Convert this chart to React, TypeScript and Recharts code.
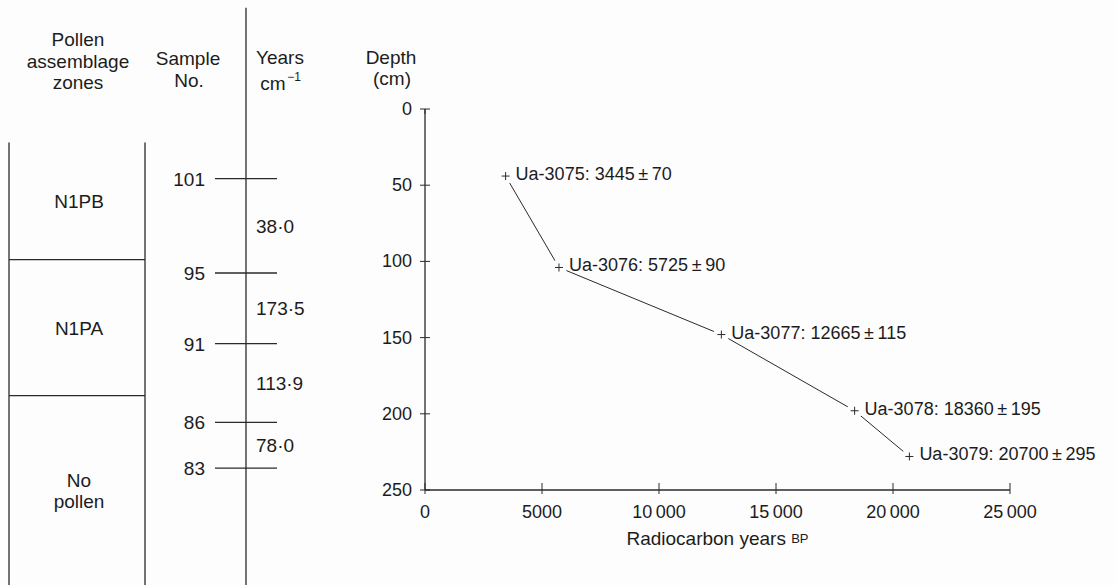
import React from 'react';
import {
  ComposedChart,
  Line,
  XAxis,
  YAxis,
  ReferenceLine,
  LabelList,
  Customized,
} from 'recharts';

// ---------- data ----------
const sampleCodes = ['Ua-3075', 'Ua-3076', 'Ua-3077', 'Ua-3078', 'Ua-3079'];
const radiocarbonAges = [3445, 5725, 12665, 18360, 20700];
const ageErrors = [70, 90, 115, 195, 295];
const depthsCm = [44, 104, 148, 198, 228];
const depthTicks = [0, 50, 100, 150, 200, 250];
const ageTicks = [0, 5000, 10000, 15000, 20000, 25000];

const sampleNumbers = ['101', '95', '91', '86', '83'];
const sampleDepthsCm = [45.7, 107.6, 154, 205.6, 235.6];
const yearsPerCm = ['38·0', '173·5', '113·9', '78·0'];
const zoneLabels = [['N1PB'], ['N1PA'], ['No', 'pollen']];
const zoneBoundsCm = [21.9, 98.9, 188.1, 312.5];
const columnTopCm = -66.5;

// ---------- layout ----------
const W = 1116;
const H = 585;
const PLOT_LEFT = 425;
const PLOT_RIGHT = 1010;
const PLOT_TOP = 109;
const PLOT_BOTTOM = 490;
const Y_AXIS_W = 60;
const X_AXIS_H = 40;
const L = {
  zoneLeft: 9,
  zoneRight: 145,
  zoneLabelX: 79,
  sampleLabelX: 205,
  tickLeft: 215,
  tickRight: 277,
  columnX: 246,
  rateX: 256,
};
const FONT = '"Liberation Sans", Arial, Helvetica, sans-serif';
const INK = '#1c1c1c';
const LINE = '#2a2a2a';

const chartData = radiocarbonAges.map((age, i) => ({
  age,
  depth: depthsCm[i],
  label: `${sampleCodes[i]}: ${age}\u2009±\u2009${ageErrors[i]}`,
}));

const fmtAge = (v: number) =>
  v >= 10000 ? `${Math.floor(v / 1000)}\u2009${String(v % 1000).padStart(3, '0')}` : String(v);

const XTick = (p: any) => {
  const { x, y, payload } = p;
  return (
    <g>
      <line x1={x} x2={x} y1={y - 7} y2={y + 4} stroke={LINE} strokeWidth={1} />
      <text x={x} y={y + 22} textAnchor="middle" dominantBaseline="central" fontSize={18} fill={INK} fontFamily={FONT}>
        {fmtAge(payload.value)}
      </text>
    </g>
  );
};

const YTick = (p: any) => {
  const { x, y, payload } = p;
  return (
    <g>
      <line x1={x - 5} x2={x + 5} y1={y} y2={y} stroke={LINE} strokeWidth={1} />
      {payload.value === 0 ? <line x1={x} x2={x} y1={y} y2={y + 5} stroke={LINE} strokeWidth={1} /> : null}
      <text x={x - 13} y={y} textAnchor="end" dominantBaseline="central" fontSize={18} fill={INK} fontFamily={FONT}>
        {payload.value}
      </text>
    </g>
  );
};

const PlusDot = (p: any) => {
  const { cx, cy, index } = p;
  return (
    <g key={`d${index}`}>
      <circle cx={cx} cy={cy} r={8} fill="#fdfdfd" />
      <line x1={cx - 4} x2={cx + 4} y1={cy} y2={cy} stroke={LINE} strokeWidth={1} />
      <line x1={cx} x2={cx} y1={cy - 4} y2={cy + 4} stroke={LINE} strokeWidth={1} />
    </g>
  );
};

const PointLabel = (p: any) => {
  const { x, y, value } = p;
  return (
    <text x={x + 10} y={y - 2} dominantBaseline="central" fontSize={18} fill={INK} fontFamily={FONT}>
      {value}
    </text>
  );
};

// shapes for the stratigraphic column: depth (y1) comes from the chart's y scale
const hLine = (x1: number, x2: number) => (p: any) => (
  <line x1={x1} x2={x2} y1={p.y1} y2={p.y1} stroke={LINE} strokeWidth={1.3} />
);
const vLineDown = (x: number) => (p: any) => (
  <line x1={x} x2={x} y1={p.y1} y2={H} stroke={LINE} strokeWidth={1.3} />
);
const textAt = (lines: string[], x: number, anchor: 'start' | 'middle' | 'end') => (p: any) => {
  const lh = 21;
  const y0 = p.y1 - ((lines.length - 1) * lh) / 2;
  return (
    <text textAnchor={anchor} dominantBaseline="central" fontSize={19} fill={INK} fontFamily={FONT}>
      {lines.map((t, i) => (
        <tspan key={i} x={x} y={y0 + i * lh}>
          {t}
        </tspan>
      ))}
    </text>
  );
};

const Headers = () => (
  <g fontFamily={FONT} fill={INK} fontSize={19} textAnchor="middle" dominantBaseline="central">
    <text x={78} y={39}>Pollen</text>
    <text x={78} y={61}>assemblage</text>
    <text x={78} y={82}>zones</text>
    <text x={188} y={58}>Sample</text>
    <text x={189} y={80}>No.</text>
    <text x={280} y={57}>Years</text>
    <text x={273} y={83}>cm</text>
    <text x={294} y={77} fontSize={12}>−1</text>
    <text x={391} y={57}>Depth</text>
    <text x={392} y={78}>(cm)</text>
    <text x={(PLOT_LEFT + PLOT_RIGHT) / 2} y={538}>
      Radiocarbon years <tspan fontSize={13}>BP</tspan>
    </text>
  </g>
);

const refY = (y: number, shape: any, key: string) => (
  <ReferenceLine key={key} y={y} ifOverflow="visible" shape={shape} />
);

export default function App() {
  const top = zoneBoundsCm[0];
  return (
    <div style={{ position: 'fixed', left: 0, top: 0, width: W, height: H, background: '#fdfdfd', overflow: 'hidden' }}>
      <ComposedChart
        width={W}
        height={H}
        data={chartData}
        margin={{
          top: PLOT_TOP,
          bottom: H - PLOT_BOTTOM - X_AXIS_H,
          left: PLOT_LEFT - Y_AXIS_W,
          right: W - PLOT_RIGHT,
        }}
      >
        <XAxis
          type="number"
          dataKey="age"
          domain={[0, 25000]}
          ticks={ageTicks}
          interval={0}
          height={X_AXIS_H}
          tickSize={0}
          tickMargin={0}
          tickLine={false}
          tick={<XTick />}
          axisLine={{ stroke: LINE, strokeWidth: 1.3 }}
        />
        <YAxis
          type="number"
          domain={[0, 250]}
          reversed
          ticks={depthTicks}
          interval={0}
          width={Y_AXIS_W}
          tickSize={0}
          tickMargin={0}
          tickLine={false}
          tick={<YTick />}
          axisLine={{ stroke: LINE, strokeWidth: 1.3 }}
        />

        {/* pollen zone box */}
        {refY(top, vLineDown(L.zoneLeft), 'zl')}
        {refY(top, vLineDown(L.zoneRight), 'zr')}
        {zoneBoundsCm.slice(1, -1).map((d, i) => refY(d, hLine(L.zoneLeft, L.zoneRight), `zb${i}`))}
        {zoneLabels.map((lines, i) =>
          refY((zoneBoundsCm[i] + zoneBoundsCm[i + 1]) / 2, textAt(lines, L.zoneLabelX, 'middle'), `zn${i}`),
        )}

        {/* sample / accumulation-rate column */}
        {refY(columnTopCm, vLineDown(L.columnX), 'col')}
        {sampleDepthsCm.map((d, i) => refY(d, hLine(L.tickLeft, L.tickRight), `st${i}`))}
        {sampleNumbers.map((n, i) => refY(sampleDepthsCm[i], textAt([n], L.sampleLabelX, 'end'), `sn${i}`))}
        {yearsPerCm.map((v, i) =>
          refY((sampleDepthsCm[i] + sampleDepthsCm[i + 1]) / 2, textAt([v], L.rateX, 'start'), `yr${i}`),
        )}

        <Line
          type="linear"
          dataKey="depth"
          stroke={LINE}
          strokeWidth={1}
          dot={PlusDot}
          activeDot={false}
          isAnimationActive={false}
        >
          <LabelList dataKey="label" content={PointLabel} />
        </Line>

        <Customized component={Headers} />
      </ComposedChart>
    </div>
  );
}
